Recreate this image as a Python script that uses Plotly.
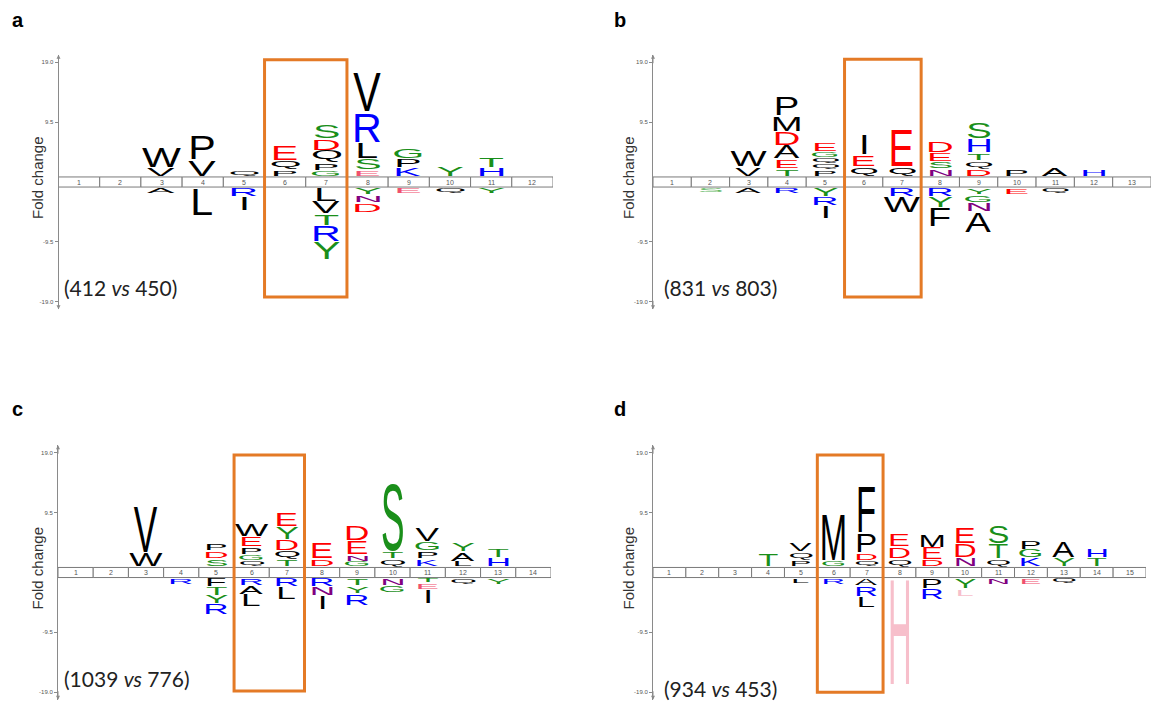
import json
import plotly.graph_objects as go

FIG_W, FIG_H = 1155, 702

# Residue stacks per position, listed from the position strip outward.
# Heights are in fold-change units.
A_N = 12
A_UP = {
    3: ("VW", [1.2, 3.0]),
    4: ("VP", [2.5, 3.7]),
    5: ("Q", [0.8]),
    6: ("PQE", [0.9, 1.2, 2.2]),
    7: ("GPQDS", [0.75, 1.05, 1.75, 1.7, 1.95]),
    8: ("ESLRV", [0.8, 1.6, 2.4, 4.6, 6.1]),
    9: ("KPG", [1.2, 1.15, 1.5]),
    10: ("Y", [1.5]),
    11: ("HT", [1.2, 1.45]),
}
A_DOWN = {
    3: ("A", [0.8]),
    4: ("L", [4.2]),
    5: ("RI", [1.2, 2.1]),
    7: ("LVTRY", [1.95, 1.8, 1.6, 2.4, 2.65]),
    8: ("YND", [0.95, 1.05, 1.3]),
    9: ("E", [0.75]),
    10: ("Q", [0.75]),
    11: ("Y", [0.8]),
}
A_COUNTS = "(412 <i>vs</i> 450)"

B_N = 13
B_UP = {
    3: ("VW", [1.3, 2.5]),
    4: ("TEADMP", [1.1, 1.3, 1.95, 2.0, 2.3, 2.9]),
    5: ("PQQGE", [0.85, 0.8, 0.65, 0.75, 1.2]),
    6: ("QEI", [1.3, 1.7, 3.0]),
    7: ("QE", [1.3, 5.8]),
    8: ("NSED", [0.95, 0.95, 1.3, 1.6]),
    9: ("DQTHS", [0.95, 1.1, 1.05, 2.1, 2.4]),
    10: ("P", [1.0]),
    11: ("A", [1.15]),
    12: ("H", [1.05]),
}
B_DOWN = {
    2: ("S", [0.55]),
    3: ("A", [0.8]),
    4: ("R", [0.8]),
    5: ("YRI", [1.3, 1.2, 1.75]),
    7: ("RW", [1.15, 2.4]),
    8: ("RYF", [1.15, 1.6, 2.9]),
    9: ("YGNA", [0.9, 1.1, 1.2, 3.1]),
    10: ("E", [0.9]),
    11: ("Q", [0.7]),
}
B_COUNTS = "(831 <i>vs</i> 803)"

C_N = 14
C_UP = {
    3: ("WV", [2.0, 7.2]),
    5: ("SDP", [1.1, 1.05, 1.05]),
    6: ("QGPEW", [0.8, 0.8, 1.05, 1.4, 1.75]),
    7: ("TQDYE", [0.95, 1.2, 1.55, 1.85, 2.1]),
    8: ("DE", [1.1, 2.5]),
    9: ("GNED", [0.7, 0.9, 1.95, 2.2]),
    10: ("QTS", [1.1, 1.05, 10.6]),
    11: ("KPGV", [1.1, 1.05, 1.2, 2.1]),
    12: ("LAY", [0.7, 1.3, 1.3]),
    13: ("HT", [1.2, 1.3]),
}
C_DOWN = {
    4: ("R", [0.85]),
    5: ("FTYR", [1.15, 1.2, 1.15, 1.55]),
    6: ("RAL", [0.95, 1.2, 1.75]),
    7: ("RL", [1.15, 1.85]),
    8: ("RNI", [1.15, 1.3, 1.95]),
    9: ("TYR", [1.05, 1.05, 1.7]),
    10: ("NG", [0.95, 0.95]),
    11: ("TEI", [0.55, 0.8, 2.1]),
    12: ("Q", [0.8]),
    13: ("Y", [0.75]),
}
C_COUNTS = "(1039 <i>vs</i> 776)"

D_N = 15
D_UP = {
    4: ("T", [1.9]),
    5: ("PQV", [0.8, 1.15, 1.15]),
    6: ("GM", [0.85, 7.2]),
    7: ("QDPF", [0.8, 1.05, 2.9, 7.3]),
    8: ("QDE", [1.05, 1.7, 1.75]),
    9: ("DEM", [0.95, 1.75, 1.75]),
    10: ("NDE", [1.2, 2.1, 2.4]),
    11: ("QTS", [1.05, 2.2, 2.65]),
    12: ("KGP", [1.2, 1.15, 1.3]),
    13: ("YA", [1.2, 2.4]),
    14: ("TH", [1.2, 1.25]),
}
D_DOWN = {
    5: ("L", [0.65]),
    6: ("R", [0.75]),
    7: ("ARL", [1.05, 1.5, 1.6]),
    8: ("H", [16.7]),
    9: ("PR", [1.45, 1.6]),
    10: ("YL", [1.45, 1.05]),
    11: ("N", [0.9]),
    12: ("E", [0.9]),
    13: ("Q", [0.75]),
}
D_COUNTS = "(934 <i>vs</i> 453)"

Y_TICKS = [-19.0, -9.5, 9.5, 19.0]
Y_TICK_TEXT = ["-19.0", "-9.5", "9.5", "19.0"]
HIGHLIGHT_POSITIONS = (6, 7)

# residue colouring
RESIDUE_COLORS = {
    "D": "#FF0000", "E": "#FF0000",
    "S": "#1A8F1A", "T": "#1A8F1A", "G": "#1A8F1A", "Y": "#1A8F1A",
    "R": "#0000FF", "K": "#0000FF", "H": "#0000FF",
    "N": "#800080",
}
DEFAULT_COLOR = "#000000"
PALE_RESIDUES = {
    ("a", "up", 8, "E"): "#F0506E",
    ("a", "down", 9, "E"): "#F0506E",
    ("b", "down", 2, "S"): "#5DB55D",
    ("c", "down", 11, "E"): "#F0506E",
    ("d", "down", 8, "H"): "#F7BFCB",
    ("d", "down", 10, "L"): "#F7BFCB",
    ("d", "down", 12, "E"): "#F0506E",
}

# ---- geometry (pixels) ----
PX_PER_UNIT = 6.3
Y_HALF = 20.2
STRIP_HALF = 0.8
GAP = 0.2
KX = 1.0
LETTER_FONT = "Liberation Sans"

PANELS = [
    dict(key="a", n=A_N, up=A_UP, down=A_DOWN, counts=A_COUNTS,
         left=58.5, right=553, mid=182, box=(-18.25, 19.4),
         count_xy=(62, 287.5), label_xy=(10, 20), title_x=37),
    dict(key="b", n=B_N, up=B_UP, down=B_DOWN, counts=B_COUNTS,
         left=653, right=1151, mid=182, box=(-18.25, 19.5),
         count_xy=(662, 287.5), label_xy=(612, 20), title_x=628),
    dict(key="c", n=C_N, up=C_UP, down=C_DOWN, counts=C_COUNTS,
         left=58, right=551, mid=572.5, box=(-18.8, 18.65),
         count_xy=(62, 678), label_xy=(10, 409), title_x=37),
    dict(key="d", n=D_N, up=D_UP, down=D_DOWN, counts=D_COUNTS,
         left=653, right=1146, mid=572.5, box=(-19.0, 18.65),
         count_xy=(662, 688), label_xy=(612, 409), title_x=628),
]


def px_x(p):
    return p / FIG_W


def px_y(p):
    return 1 - p / FIG_H


def stacks(spec, sign):
    out = []
    for pos, (letters, heights) in spec.items():
        base = STRIP_HALF
        for ch, h in zip(letters, heights):
            lo = base + GAP
            hi = lo + h
            if sign > 0:
                out.append((pos, ch, lo, hi))
            else:
                out.append((pos, ch, -hi, -lo))
            base = hi
    return out


fig = go.Figure()
layout = dict(
    width=FIG_W, height=FIG_H, margin=dict(l=0, r=0, t=0, b=0),
    paper_bgcolor="white", plot_bgcolor="rgba(0,0,0,0)", showlegend=False,
)
annotations = []
shapes = []
letter_boxes = []

for k, p in enumerate(PANELS):
    sfx = "" if k == 0 else str(k + 1)
    xref, yref = "x" + sfx, "y" + sfx
    half_px = Y_HALF * PX_PER_UNIT
    layout["xaxis" + sfx] = dict(
        domain=[px_x(p["left"]), px_x(p["right"])], range=[0.5, p["n"] + 0.5],
        visible=False, fixedrange=True, anchor=yref,
    )
    layout["yaxis" + sfx] = dict(
        domain=[px_y(p["mid"] + half_px), px_y(p["mid"] - half_px)],
        range=[-Y_HALF, Y_HALF], anchor=xref, fixedrange=True,
        showline=True, linecolor="#8a8a8a", linewidth=1,
        tickvals=Y_TICKS, ticktext=Y_TICK_TEXT, ticks="outside", ticklen=3,
        tickcolor="#8a8a8a", tickfont=dict(family="Liberation Sans", size=6, color="#555555"),
        showgrid=False, zeroline=False,
    )
    fig.add_trace(go.Scatter(x=[], y=[], xaxis=xref, yaxis=yref, hoverinfo="skip", showlegend=False))

    # axis end arrows
    for yv, ay in ((Y_HALF, 10), (-Y_HALF, -10)):
        annotations.append(dict(
            x=0.5, y=yv, xref=xref, yref=yref, text="", showarrow=True,
            ax=0, ay=ay, arrowhead=2, arrowsize=0.8, arrowwidth=1, arrowcolor="#8a8a8a",
        ))

    # position strip
    for i in range(1, p["n"] + 1):
        shapes.append(dict(
            type="rect", xref=xref, yref=yref, x0=i - 0.5, x1=i + 0.5,
            y0=-STRIP_HALF, y1=STRIP_HALF, line=dict(color="#7a7a7a", width=1),
            fillcolor="white", layer="below",
        ))
        annotations.append(dict(
            x=i, y=0, xref=xref, yref=yref, text=str(i), showarrow=False,
            font=dict(family="Liberation Sans", size=7, color="#555555"),
        ))

    # highlighted positions
    shapes.append(dict(
        type="rect", xref=xref, yref=yref,
        x0=HIGHLIGHT_POSITIONS[0] - 0.5, x1=HIGHLIGHT_POSITIONS[1] + 0.5,
        y0=p["box"][0], y1=p["box"][1], line=dict(color="#E47A26", width=3),
        layer="above",
    ))

    # residue letters
    for side, sign, spec in (("up", 1, p["up"]), ("down", -1, p["down"])):
        for pos, ch, y0, y1 in stacks(spec, sign):
            color = PALE_RESIDUES.get((p["key"], side, pos, ch), RESIDUE_COLORS.get(ch, DEFAULT_COLOR))
            letter_boxes.append([len(annotations), y0, y1])
            annotations.append(dict(
                x=pos, y=(y0 + y1) / 2, xref=xref, yref=yref, text=ch, showarrow=False,
                font=dict(family=LETTER_FONT, size=20, color=color),
                xanchor="center", yanchor="middle",
            ))

    # axis title, panel letter, sample counts
    annotations.append(dict(
        x=px_x(p["title_x"]), y=px_y(p["mid"] - 4), xref="paper", yref="paper",
        text="Fold change", textangle=-90, showarrow=False,
        xanchor="center", yanchor="middle",
        font=dict(family="Liberation Sans", size=15, color="#333333"),
    ))
    annotations.append(dict(
        x=px_x(p["label_xy"][0]), y=px_y(p["label_xy"][1]), xref="paper", yref="paper",
        text="<b>" + p["key"] + "</b>", showarrow=False, xanchor="left", yanchor="middle",
        font=dict(family="Liberation Sans", size=20, color="#000000"),
    ))
    annotations.append(dict(
        x=px_x(p["count_xy"][0]), y=px_y(p["count_xy"][1]), xref="paper", yref="paper",
        text=p["counts"], showarrow=False, xanchor="left", yanchor="middle",
        font=dict(family="Lato", size=21, color="#222222"),
    ))

layout["annotations"] = annotations
layout["shapes"] = shapes
fig.update_layout(**layout)

# Stretch each residue glyph so its ink fills its stack slot.
FIT_JS = """
var gd = document.getElementById('{plot_id}');
var BOXES = __BOXES__;
var KX = __KX__;
var ctx = document.createElement('canvas').getContext('2d');
function fitLetters() {
  var fl = gd._fullLayout;
  if (!fl || !fl.annotations) return;
  var mainSvg = gd.querySelector('.main-svg');
  var r = mainSvg.getBoundingClientRect();
  for (var k = 0; k < BOXES.length; k++) {
    var b = BOXES[k];
    var ann = fl.annotations[b[0]];
    if (!ann) continue;
    var xa = fl['xaxis' + ann.xref.slice(1)];
    var ya = fl['yaxis' + ann.yref.slice(1)];
    var g = gd.querySelector('g.annotation[data-index="' + b[0] + '"]');
    if (!g || !xa || !ya) continue;
    var t = g.querySelector('text.annotation-text');
    if (!t) continue;
    t.removeAttribute('transform');
    var size = ann.font.size;
    ctx.font = size + 'px "' + ann.font.family + '"';
    ctx.textAlign = 'left';
    ctx.textBaseline = 'alphabetic';
    var m = ctx.measureText(ann.text);
    var bb = t.getBBox();
    var base = parseFloat(t.getAttribute('y'));
    if (isNaN(base)) base = bb.y + m.fontBoundingBoxAscent;
    var inkTop = base - m.actualBoundingBoxAscent;
    var inkBot = base + m.actualBoundingBoxDescent;
    var inkMid = bb.x + (m.actualBoundingBoxRight - m.actualBoundingBoxLeft) / 2;
    var inv = t.parentNode.getScreenCTM().inverse();
    var pt = mainSvg.createSVGPoint();
    pt.x = r.left + xa._offset + xa.l2p(ann.x);
    pt.y = r.top + ya._offset + ya.l2p(b[2]);
    var pTop = pt.matrixTransform(inv);
    pt.x = r.left + xa._offset + xa.l2p(ann.x);
    pt.y = r.top + ya._offset + ya.l2p(b[1]);
    var pBot = pt.matrixTransform(inv);
    var sx = Math.abs(xa.l2p(1) - xa.l2p(0)) * KX / size;
    var sy = (pBot.y - pTop.y) / (inkBot - inkTop);
    t.setAttribute('transform', 'translate(' + pTop.x + ',' + pTop.y + ') scale(' + sx + ',' + sy +
      ') translate(' + (-inkMid) + ',' + (-inkTop) + ')');
  }
}
fitLetters();
if (document.fonts && document.fonts.ready) { document.fonts.ready.then(fitLetters); }
gd.on('plotly_afterplot', fitLetters);
""".replace("__BOXES__", json.dumps(letter_boxes)).replace("__KX__", str(KX))

fig.write_html("out.html", post_script=FIT_JS, config={"staticPlot": True})
